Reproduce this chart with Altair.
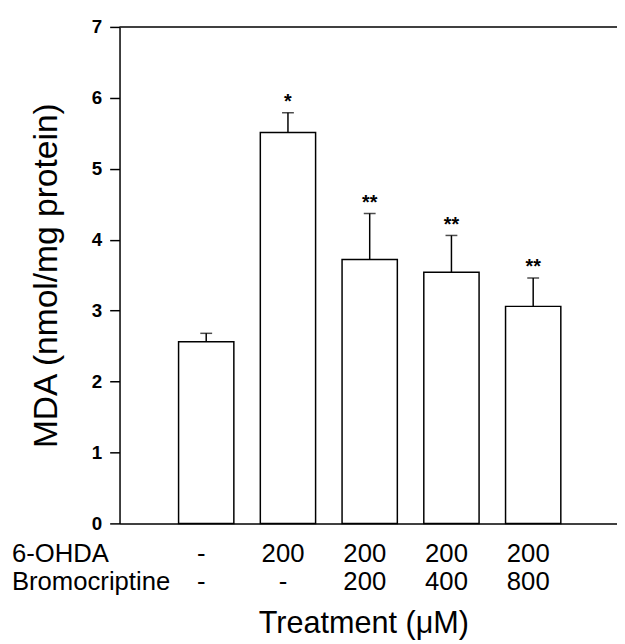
import altair as alt
import pandas as pd

# ---- data ----
positions = [1, 2, 3, 4, 5]
mda = [2.56, 5.51, 3.72, 3.54, 3.06]
sem = [0.12, 0.28, 0.65, 0.52, 0.40]
stars = ["", "*", "**", "**", "**"]
ohda = ["-", "200", "200", "200", "200"]
bromo = ["-", "-", "200", "400", "800"]
row_names = ["6-OHDA", "Bromocriptine"]
y_ticks = [0, 1, 2, 3, 4, 5, 6, 7]

df = pd.DataFrame({"pos": positions, "mda": mda, "sem": sem, "star": stars,
                   "ohda": ohda, "bromo": bromo})
df["upper"] = df["mda"] + df["sem"]

FONT = "Liberation Sans"
W, H = 504, 503
ROW1_Y, ROW2_Y = 542, 570
xs = alt.Scale(domain=[0, 5.965], nice=False, zero=False)
ys = alt.Scale(domain=[0, 7], nice=False)

base = alt.Chart(df)

x_axis = alt.Axis(title="Treatment (μM)", labels=False, ticks=False, grid=False,
                  domainColor="black", domainWidth=1.5,
                  titleFont=FONT, titleFontSize=31, titleFontWeight="normal",
                  titleColor="black", titleX=247, titleY=111,
                  titleBaseline="alphabetic", titleAlign="center")
y_axis = alt.Axis(title="MDA (nmol/mg protein)", values=y_ticks, format="d", grid=False,
                  domainColor="black", domainWidth=1.5, tickColor="black",
                  tickWidth=1.5, tickSize=10, labelFont=FONT, labelFontSize=19,
                  labelFontWeight="bold", labelColor="black", labelPadding=8,
                  titleFont=FONT, titleFontSize=34, titleFontWeight="normal",
                  titleColor="black", titleX=-64, titleY=H / 2, titleAngle=270,
                  titleBaseline="alphabetic", titleAlign="center")


def X():
    return alt.X("pos:Q", scale=xs, axis=x_axis, title="Treatment (μM)")


def Y(field):
    return alt.Y(field, scale=ys, axis=y_axis, title="MDA (nmol/mg protein)")


bars = base.mark_bar(fill="white", stroke="black", strokeWidth=1.5, size=56).encode(
    x=X(), y=Y("mda:Q"))

stems = base.mark_rule(color="black", strokeWidth=1.5).encode(
    x=X(), y=Y("mda:Q"), y2="upper:Q")

caps = base.mark_tick(color="black", thickness=1.5, size=12, orient="horizontal").encode(
    x=X(), y=Y("upper:Q"))

star_text = base.mark_text(font=FONT, fontSize=20, fontWeight="bold", color="black",
                           baseline="alphabetic", dy=-5).encode(
    x=X(), y=Y("upper:Q"), text="star:N")

top_line = alt.Chart(pd.DataFrame({"top": [y_ticks[-1]]})).mark_rule(
    color="black", strokeWidth=1.5).encode(y=Y("top:Q"))

row1 = base.mark_text(font=FONT, fontSize=26, color="black", baseline="alphabetic",
                      dx=-5).encode(x=X(), y=alt.value(ROW1_Y), text="ohda:N")
row2 = base.mark_text(font=FONT, fontSize=26, color="black", baseline="alphabetic",
                      dx=-5).encode(x=X(), y=alt.value(ROW2_Y), text="bromo:N")

name1 = alt.Chart(pd.DataFrame({"name": [row_names[0]]})).mark_text(
    font=FONT, fontSize=26, color="black", baseline="alphabetic", align="left").encode(
    x=alt.value(-109), y=alt.value(ROW1_Y), text="name:N")
name2 = alt.Chart(pd.DataFrame({"name": [row_names[1]]})).mark_text(
    font=FONT, fontSize=26, color="black", baseline="alphabetic", align="left").encode(
    x=alt.value(-109), y=alt.value(ROW2_Y), text="name:N")

chart = alt.layer(bars, stems, caps, star_text, top_line, row1, row2, name1, name2).properties(
    width=W, height=H,
    padding={"left": 113, "top": 15, "right": 0, "bottom": 118},
    autosize=alt.AutoSizeParams(type="none"),
    background="white",
).configure_view(stroke=None).configure_axisY(
    labelFont=FONT, labelFontSize=19, labelFontWeight="bold", labelColor="black"
)

chart.save("out.html", embed_options={"renderer": "svg", "actions": False})
